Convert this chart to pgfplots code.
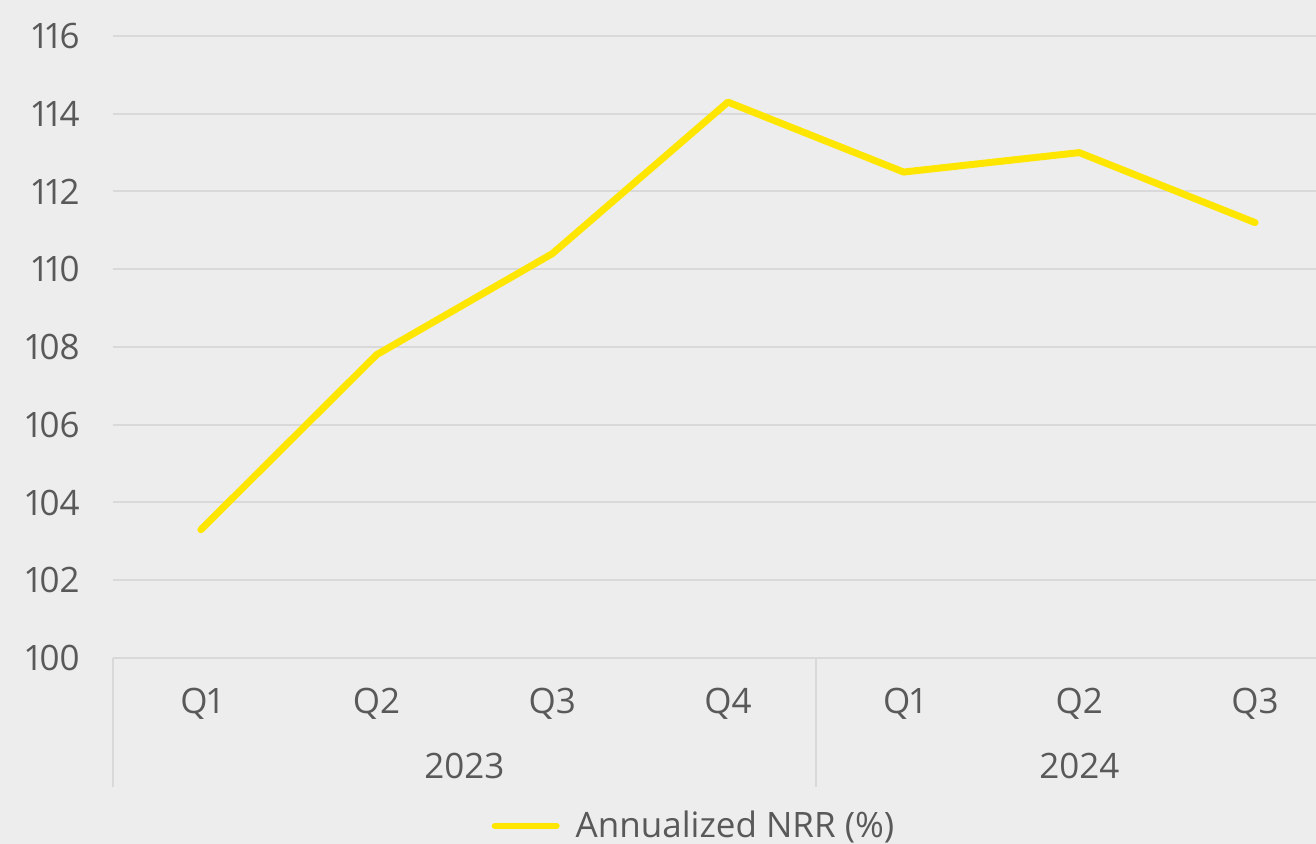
\documentclass[border=0pt]{standalone}
\usepackage{fontspec}
\setmainfont{Open Sans}[Numbers=Proportional]
\usepackage{pgfplots}
\pgfplotsset{compat=1.18}
\definecolor{bg}{HTML}{EDEDED}
\definecolor{gridc}{HTML}{D9D9D9}
\definecolor{txt}{HTML}{595959}
\definecolor{eyyellow}{HTML}{FFE600}
\newcommand{\lbl}{\fontsize{17.5}{21}\selectfont}

\begin{document}
\begin{tikzpicture}
\path[use as bounding box] (-56.5pt,-93pt) rectangle (601.5pt,329pt);
\fill[bg] (-56.5pt,-93pt) rectangle (601.5pt,329pt);
\clip (-56.5pt,-93pt) rectangle (601.5pt,329pt);
\begin{axis}[
  scale only axis,
  width=601.5pt, height=311pt,
  xmin=-0.5, xmax=6.347,
  ymin=100, ymax=116,
  ytick={100,102,...,116},
  xtick={0,...,6},
  xticklabels={Q1,Q2,Q3,Q4,Q1,Q2,Q3},
  extra x ticks={-0.5,3.5},
  extra x tick labels={},
  extra x tick style={major tick length=64.5pt, tick align=outside,
    tick style={gridc, line width=1pt}},
  major tick length=0pt,
  ymajorgrids,
  grid style={gridc, line width=1pt},
  axis x line*=bottom, axis y line*=left,
  x axis line style={gridc, line width=1pt, -},
  y axis line style={draw=none},
  tick label style={font=\lbl, text=txt},
  /pgf/number format/assume math mode=true,
  xticklabel style={inner sep=0pt, anchor=north, yshift=-14.75pt},
  yticklabel style={inner sep=0pt, anchor=east, xshift=-16.5pt},
  clip=false,
  legend style={draw=none, fill=none, at={(0.4838,-0.2700)}, anchor=center,
    font=\lbl, text=txt, column sep=6pt},
  legend image code/.code={%
    \draw[#1, line width=3pt, line cap=round] (0pt,0pt) -- (31pt,0pt);},
]
\addplot[eyyellow, line width=3.5pt, line cap=round, line join=round, mark=none]
  coordinates {(0,103.3) (1,107.8) (2,110.4) (3,114.3) (4,112.5) (5,113.0) (6,111.2)};
\addlegendentry{Annualized NRR (\%)}
\node[font=\lbl, text=txt] at (axis cs:1.5,100) [yshift=-54pt] {2023};
\node[font=\lbl, text=txt] at (axis cs:5,100) [yshift=-54pt] {2024};
\end{axis}
\end{tikzpicture}
\end{document}
